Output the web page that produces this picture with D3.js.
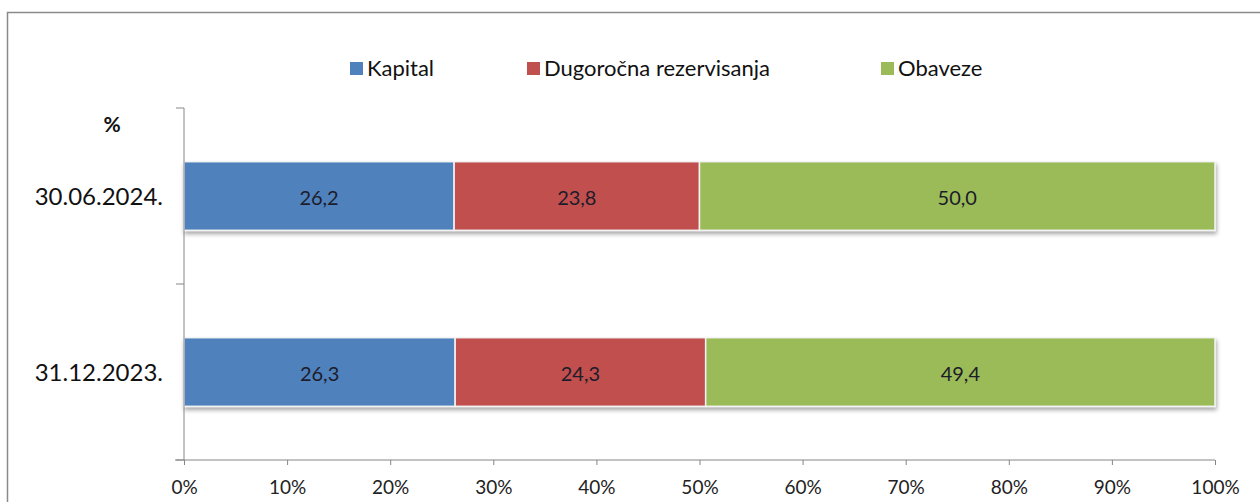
<!DOCTYPE html>
<html lang="sr">
<head>
<meta charset="utf-8">
<style>
  body { margin: 0; background: white; }
  svg { font-family: Lato, 'Open Sans', sans-serif; display: block; }
  .axis path, .axis line { stroke: #868686; }
  .axis text { fill: #222; }
</style>
</head>
<body>
<svg width="1260" height="502"></svg>
<script src="https://d3js.org/d3.v7.min.js"></script>
<script>
  const categories = ["30.06.2024.", "31.12.2023."]
  const seriesNames = ["Kapital", "Dugoročna rezervisanja", "Obaveze"]
  const kapital = [26.2, 26.3]
  const rezervisanja = [23.8, 24.3]
  const obaveze = [50.0, 49.4]
  const xTicks = [0, 10, 20, 30, 40, 50, 60, 70, 80, 90, 100]

  const colors = ["#4f81bd", "#c0504d", "#9bbb59"]
  const width = 1260, height = 502
  const margin = { top: 108, right: 45, bottom: 42, left: 184 }

  const svg = d3.select("svg")

  // frame
  svg.append("rect")
    .attr("x", 7.5).attr("y", 12.5)
    .attr("width", 1270).attr("height", 520)
    .attr("fill", "none").attr("stroke", "#8a8a8a").attr("stroke-width", 1.5)

  const x = d3.scaleLinear().domain([0, 100]).range([margin.left, width - margin.right])
  const y = d3.scaleBand().domain(categories).range([margin.top, height - margin.bottom]).paddingInner(0.61).paddingOuter(0.305)

  const rows = categories.map((c, i) => {
    const vals = [kapital[i], rezervisanja[i], obaveze[i]]
    let acc = 0
    return vals.map((v, k) => { const s = acc; acc += v; return { cat: c, k: k, v: v, x0: s, x1: acc } })
  })

  // drop shadow
  const defs = svg.append("defs")
  const f = defs.append("filter").attr("id", "shadow").attr("x", "-5%").attr("y", "-20%").attr("width", "110%").attr("height", "150%")
  f.append("feDropShadow").attr("dx", 1).attr("dy", 3).attr("stdDeviation", 2).attr("flood-color", "#000").attr("flood-opacity", 0.35)

  rows.forEach(row => {
    const g = svg.append("g").attr("filter", "url(#shadow)")
    g.selectAll("rect").data(row).join("rect")
      .attr("x", d => x(d.x0))
      .attr("y", d => y(d.cat))
      .attr("width", d => x(d.x1) - x(d.x0))
      .attr("height", y.bandwidth())
      .attr("fill", d => colors[d.k])
      .attr("stroke", "#f4f4f4").attr("stroke-width", 1.5)
    svg.append("g").selectAll("text").data(row).join("text")
      .attr("x", d => x((d.x0 + d.x1) / 2))
      .attr("y", d => y(d.cat) + y.bandwidth() / 2 + 9)
      .attr("text-anchor", "middle")
      .attr("font-size", 20)
      .attr("fill", "#1c1c2a")
      .text(d => d.v.toFixed(1).replace(".", ","))
  })

  // axes
  const xAxis = d3.axisBottom(x).tickValues(xTicks).tickSize(5).tickSizeOuter(0).tickFormat(d => d + "%")
  const gx = svg.append("g").attr("class", "axis")
    .attr("transform", "translate(0," + (height - margin.bottom) + ")")
    .call(xAxis)
  gx.select(".domain").attr("d", "M" + (margin.left - 9) + ",0H" + x(100))
  gx.selectAll("text").attr("font-size", 19).attr("dy", "1.35em").attr("font-family", "Lato")

  const yLine = svg.append("g").attr("class", "axis")
  yLine.append("line")
    .attr("x1", margin.left).attr("x2", margin.left)
    .attr("y1", margin.top).attr("y2", height - margin.bottom)
  const bounds = [margin.top, margin.top + y.step(), height - margin.bottom]
  yLine.selectAll(".tk").data(bounds).join("line")
    .attr("x1", margin.left - 8).attr("x2", margin.left)
    .attr("y1", d => d).attr("y2", d => d)

  svg.append("g").selectAll("text").data(categories).join("text")
    .attr("x", 163)
    .attr("y", d => y(d) + y.bandwidth() / 2 + 9)
    .attr("text-anchor", "end")
    .attr("font-size", 24)
    .attr("fill", "#111")
    .text(d => d)

  svg.append("text")
    .attr("x", 112).attr("y", 132)
    .attr("text-anchor", "middle")
    .attr("font-size", 21).attr("font-weight", "bold")
    .attr("fill", "#111")
    .text("%")

  // legend
  const legendX = [350, 527, 881]
  const lg = svg.append("g").selectAll("g").data(seriesNames).join("g")
    .attr("transform", (d, i) => "translate(" + legendX[i] + ",62)")
  lg.append("rect").attr("width", 13).attr("height", 13).attr("fill", (d, i) => colors[i])
  lg.append("text").attr("x", 17).attr("y", 14)
    .attr("font-size", 22).attr("fill", "#111")
    .text(d => d)
</script>
</body>
</html>
